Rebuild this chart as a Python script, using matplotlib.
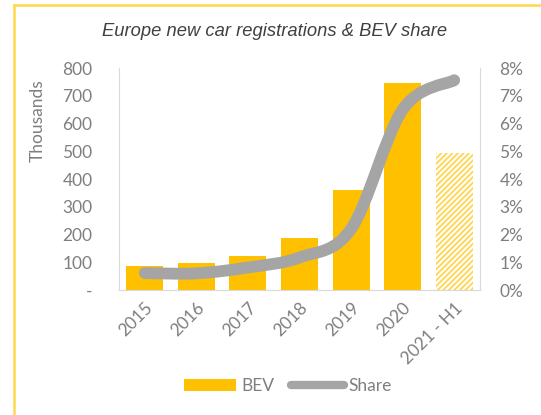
import matplotlib.pyplot as plt
import numpy as np
from matplotlib.path import Path
from matplotlib.patches import PathPatch, Patch
from matplotlib.lines import Line2D
from matplotlib.ticker import FuncFormatter

# ----------- DATA -----------------#
years = ['2015', '2016', '2017', '2018', '2019', '2020', '2021 - H1']
bev = [88, 96, 121, 188, 359, 745, 493]   # thousands
share = [0.61, 0.60, 0.81, 1.17, 2.2, 6.5, 7.56]   # %
left_ticks = [0, 100, 200, 300, 400, 500, 600, 700, 800]
right_ticks = [0, 1, 2, 3, 4, 5, 6, 7, 8]

yellow = '#FFC000'
grey_line = '#A5A5A5'
txt = '#7F7F7F'
plt.rcParams['font.family'] = ['Lato', 'DejaVu Sans']
plt.rcParams['hatch.linewidth'] = 1.3

fig = plt.figure(figsize=(5.41, 4.15), dpi=100)
W, H = 541, 415
ax = fig.add_axes([119 / W, 1 - 290 / H, 361 / W, 222 / H])
ax2 = ax.twinx()

x = np.arange(len(years))
ax.bar(x[:-1], bev[:-1], width=0.72, color=yellow, zorder=2)
ax.bar(x[-1:], bev[-1:], width=0.72, color='white', edgecolor='#FFD54F',
       hatch='//////', linewidth=0, zorder=2)
ax.set_xlim(-0.5, len(years) - 0.5)
ax.set_ylim(0, 800)
ax.set_yticks(left_ticks)
ax.yaxis.set_major_formatter(FuncFormatter(lambda v, p: '-' if v == 0 else f'{v:.0f}'))
ax.set_xticks(x)
ax.set_xticklabels(years, rotation=45, ha='right', va='top', rotation_mode='anchor')

# smoothed share line (Excel-style bezier through the points)
pts = np.column_stack([x, share])
verts = [pts[0]]
codes = [Path.MOVETO]
for i in range(len(pts) - 1):
    p0 = pts[max(i - 1, 0)]
    p1 = pts[i]
    p2 = pts[i + 1]
    p3 = pts[min(i + 2, len(pts) - 1)]
    verts += [p1 + (p2 - p0) / 6, p2 - (p3 - p1) / 6, p2]
    codes += [Path.CURVE4] * 3
ax2.add_patch(PathPatch(Path(verts, codes), facecolor='none', edgecolor=grey_line,
                        linewidth=8.5, capstyle='round', joinstyle='round', zorder=3))
ax2.set_ylim(0, 8)
ax2.set_yticks(right_ticks)
ax2.yaxis.set_major_formatter(FuncFormatter(lambda v, p: f'{v:.0f}%'))

for a in (ax, ax2):
    for s in ['top', 'right', 'left', 'bottom']:
        a.spines[s].set_visible(False)
    a.tick_params(length=0, labelsize=12.5, labelcolor=txt)
ax.spines['left'].set_visible(True)
ax.spines['left'].set_color('#D9D9D9')
ax.spines['bottom'].set_visible(True)
ax.spines['bottom'].set_color('#D9D9D9')
ax2.spines['right'].set_visible(True)
ax2.spines['right'].set_color('#D9D9D9')
ax.tick_params(axis='y', pad=19)
ax2.tick_params(axis='y', pad=14)
ax.tick_params(axis='x', pad=7)

fig.text(38 / W, 1 - 121 / H, 'Thousands', rotation=90, ha='center', va='center',
         fontsize=12.5, color=txt)

fig.text(275 / W, 1 - 32 / H, 'Europe new car registrations & BEV share',
         ha='center', va='center', fontsize=13.2, style='italic', color='#404040',
         family=['Liberation Sans', 'DejaVu Sans'])

handles = [Patch(facecolor=yellow), Line2D([], [], color=grey_line, lw=6, solid_capstyle='round')]
fig.legend(handles, ['BEV', 'Share'], loc='center', bbox_to_anchor=(288 / W, 1 - 386 / H),
           ncol=2, frameon=False, fontsize=12.5, labelcolor=txt, handlelength=3.0,
           handletextpad=0.3, columnspacing=1.0)

# outer yellow frame
fig.add_artist(Line2D([14 / W, 14 / W], [0, 1 - 5 / H], color='#FFD84D', lw=1.8))
fig.add_artist(Line2D([14 / W, 1], [1 - 5 / H, 1 - 5 / H], color='#FFD84D', lw=1.8))

fig.savefig('out.png', dpi=100)
